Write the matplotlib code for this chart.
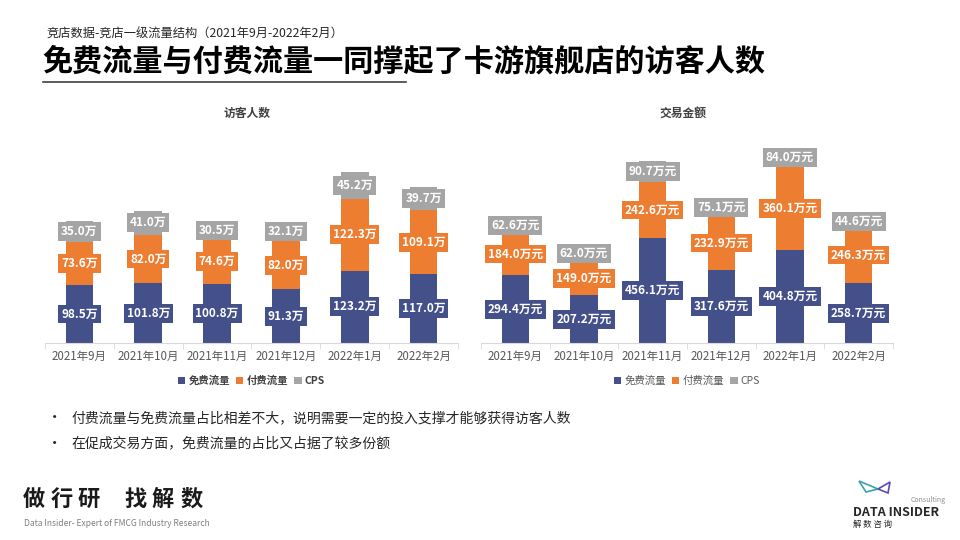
import matplotlib.pyplot as plt
from matplotlib.patches import Polygon
import numpy as np

plt.rcParams['font.family'] = ['Noto Sans CJK SC', 'DejaVu Sans']

# 数据
months = ['2021年9月', '2021年10月', '2021年11月', '2021年12月', '2022年1月', '2022年2月']
series = ['免费流量', '付费流量', 'CPS']

visitors_free = [98.5, 101.8, 100.8, 91.3, 123.2, 117.0]
visitors_paid = [73.6, 82.0, 74.6, 82.0, 122.3, 109.1]
visitors_cps = [35.0, 41.0, 30.5, 32.1, 45.2, 39.7]

sales_free = [294.4, 207.2, 456.1, 317.6, 404.8, 258.7]
sales_paid = [184.0, 149.0, 242.6, 232.9, 360.1, 246.3]
sales_cps = [62.6, 62.0, 90.7, 75.1, 84.0, 44.6]

colors = ['#44508A', '#ED7D31', '#A5A5A5']

fig = plt.figure(figsize=(9.6, 5.4), dpi=100)
fig.patch.set_facecolor('white')


def stacked(ax, data, unit, ylim, legend_bold):
    x = np.arange(len(months))
    bottom = np.zeros(len(months))
    for vals, c, name in zip(data, colors, series):
        vals = np.array(vals)
        ax.bar(x, vals, 0.4, bottom=bottom, color=c, label=name, zorder=2)
        for xi, b, v in zip(x, bottom, vals):
            ax.text(xi, b + v / 2, f'{v:.1f}{unit}', ha='center', va='center',
                    color='white', fontsize=8.5, fontweight='bold', zorder=3,
                    bbox=dict(boxstyle='square,pad=0.25', fc=c, ec='none'))
        bottom = bottom + vals
    ax.set_xlim(-0.5, len(months) - 0.5)
    ax.set_ylim(0, ylim)
    ax.set_xticks(x)
    ax.set_xticklabels(months, fontsize=8.3, color='#595959')
    ax.set_xticks(np.arange(-0.5, len(months)), minor=True)
    ax.tick_params(axis='x', which='major', length=0, pad=5)
    ax.tick_params(axis='x', which='minor', length=4, color='#D9D9D9')
    ax.set_yticks([])
    for s in ['top', 'right', 'left']:
        ax.spines[s].set_visible(False)
    ax.spines['bottom'].set_color('#D9D9D9')
    leg = ax.legend(loc='upper center', bbox_to_anchor=(0.5, -0.12), ncol=3,
                    frameon=False, fontsize=7.5, handlelength=0.7,
                    handleheight=0.7, handletextpad=0.3, columnspacing=0.6)
    for t in leg.get_texts():
        t.set_color('#404040' if legend_bold else '#595959')
        if legend_bold:
            t.set_fontweight('bold')


ax1 = fig.add_axes([45 / 960, 1 - 343 / 540, 413 / 960, 193 / 540])
stacked(ax1, [visitors_free, visitors_paid, visitors_cps], '万', 193 / 0.588, True)
ax2 = fig.add_axes([481 / 960, 1 - 343 / 540, 412 / 960, 193 / 540])
stacked(ax2, [sales_free, sales_paid, sales_cps], '万元', 193 / 0.2304, False)

# 图表标题
fig.text(247 / 960, 1 - 113 / 540, '访客人数', ha='center', va='center',
         fontsize=8.5, fontweight='bold', color='#404040')
fig.text(683 / 960, 1 - 113 / 540, '交易金额', ha='center', va='center',
         fontsize=8.5, fontweight='bold', color='#404040')

# 页面标题
fig.text(47 / 960, 1 - 33 / 540, '竞店数据-竞店一级流量结构（2021年9月-2022年2月）',
         ha='left', va='center', fontsize=8.8, color='#262626')
fig.text(42 / 960, 1 - 62 / 540, '免费流量与付费流量一同撑起了卡游旗舰店的访客人数',
         ha='left', va='center', fontsize=21.7, fontweight='heavy', color='black')
fig.add_artist(plt.Line2D([43 / 960, 406 / 960], [1 - 82 / 540, 1 - 82 / 540],
                          color='#404040', lw=1.2))

# 要点
bullets = ['付费流量与免费流量占比相差不大，说明需要一定的投入支撑才能够获得访客人数',
           '在促成交易方面，免费流量的占比又占据了较多份额']
for i, b in enumerate(bullets):
    y = 1 - (418 + 25 * i) / 540
    fig.text(47 / 960, y, '•', ha='left', va='center', fontsize=11, color='#262626')
    fig.text(71 / 960, y, b, ha='left', va='center', fontsize=10, color='#262626')

# 左下角标识
slogan = ['做', '行', '研', '找', '解', '数']
slogan_x = [34, 62, 89, 136, 163, 192]
for ch, cx in zip(slogan, slogan_x):
    fig.text(cx / 960, 1 - 499 / 540, ch, ha='center', va='center',
             fontsize=16, fontweight='bold', color='#1a1a1a')
fig.text(24 / 960, 1 - 523 / 540, 'Data Insider- Expert of FMCG Industry Research',
         ha='left', va='center', fontsize=6.1, color='#7f7f7f')

# 右下角标识
tri1 = Polygon([[859 / 960, 1 - 481 / 540], [866 / 960, 1 - 492 / 540],
                [878 / 960, 1 - 489 / 540]], closed=True, fill=False,
               ec='#3BA3A8', lw=1.2, transform=fig.transFigure)
tri2 = Polygon([[878 / 960, 1 - 489 / 540], [890 / 960, 1 - 482 / 540],
                [888 / 960, 1 - 493 / 540]], closed=True, fill=False,
               ec='#5B4BB0', lw=1.2, transform=fig.transFigure)
fig.add_artist(tri1)
fig.add_artist(tri2)
fig.text(928 / 960, 1 - 500 / 540, 'Consulting', ha='center', va='center',
         fontsize=5, style='italic', color='#8c8c8c')
fig.text(853 / 960, 1 - 512 / 540, 'DATA INSIDER', ha='left', va='center',
         fontsize=9, fontweight='bold', color='#262626')
fig.text(853 / 960, 1 - 524 / 540, '解 数 咨 询', ha='left', va='center',
         fontsize=6, color='#262626')

fig.savefig('out.png', dpi=100)
